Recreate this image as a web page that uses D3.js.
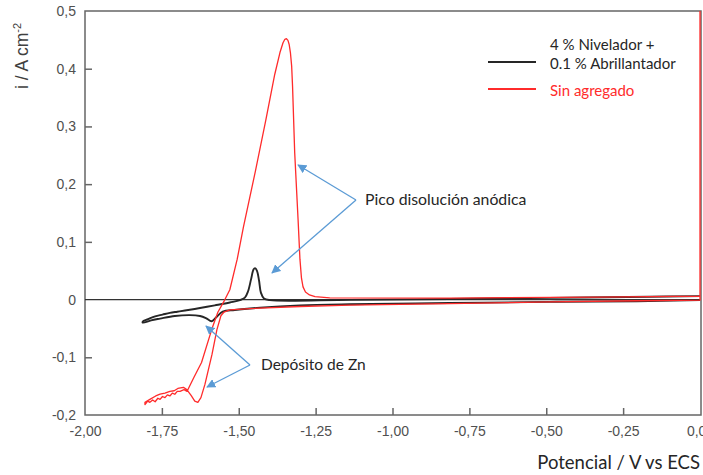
<!DOCTYPE html>
<html>
<head>
<meta charset="utf-8">
<script src="https://cdn.jsdelivr.net/npm/d3@7"></script>
<style>
  body { margin: 0; background: #fff; }
  .tick text { font-family: "Liberation Sans", Arial, sans-serif; font-size: 14px; fill: #505050; }
  .lbl { font-family: Lato, "Open Sans", sans-serif; }
</style>
</head>
<body>
<div id="chart"></div>
<script>
// Sin agregado (red): cathodic sweep from 0 V, then the return sweep
const redE = [0, 0, -0.206, -0.489, -0.814, -1.139, -1.30, -1.464, -1.529, -1.548, -1.558, -1.571, -1.587, -1.61, -1.623, -1.633, -1.643, -1.655, -1.669, -1.68, -1.698, -1.71, -1.724, -1.74, -1.756, -1.77, -1.789, -1.805,
  -1.805, -1.796, -1.789, -1.78, -1.772, -1.763, -1.756, -1.748, -1.740, -1.732, -1.724, -1.716, -1.708, -1.70, -1.691, -1.678, -1.668, -1.646, -1.621, -1.588, -1.568, -1.545, -1.529, -1.505, -1.485, -1.446, -1.412, -1.383, -1.366, -1.356, -1.350, -1.345, -1.340, -1.336, -1.332, -1.328, -1.325, -1.318, -1.307, -1.301, -1.296, -1.291, -1.283, -1.27, -1.252, -1.204, -0.814, -0.326, 0, 0];
const redI = [0.6, -0.001, -0.002, -0.004, -0.007, -0.0095, -0.012, -0.0156, -0.018, -0.0216, -0.028, -0.052, -0.095, -0.147, -0.17, -0.178, -0.176, -0.166, -0.156, -0.152, -0.154, -0.158, -0.159, -0.162, -0.164, -0.167, -0.173, -0.178,
  -0.182, -0.176, -0.178, -0.174, -0.177, -0.171, -0.173, -0.168, -0.170, -0.165, -0.167, -0.162, -0.164, -0.159, -0.159, -0.156, -0.159, -0.135, -0.109, -0.052, -0.022, 0.0, 0.017, 0.070, 0.125, 0.222, 0.311, 0.390, 0.428, 0.445, 0.451, 0.452, 0.449, 0.442, 0.428, 0.405, 0.369, 0.254, 0.138, 0.070, 0.037, 0.022, 0.013, 0.008, 0.005, 0.003, 0.0026, 0.0043, 0.006, 0.6];

// 4 % Nivelador + 0.1 % Abrillantador (black)
const blackE = [0, -0.206, -0.489, -0.814, -1.139, -1.301, -1.431, -1.513, -1.552, -1.574, -1.588, -1.607, -1.626, -1.659, -1.708, -1.756, -1.785, -1.812,
  -1.812, -1.795, -1.772, -1.748, -1.724, -1.70, -1.675, -1.626, -1.578, -1.529, -1.496, -1.480, -1.470, -1.460, -1.452, -1.447, -1.441, -1.434, -1.428, -1.418, -1.399, -1.139, -0.814, -0.489, -0.164, 0];
const blackI = [-0.001, -0.003, -0.004, -0.006, -0.008, -0.010, -0.014, -0.018, -0.021, -0.031, -0.0375, -0.032, -0.0285, -0.027, -0.0285, -0.033, -0.036, -0.040,
  -0.038, -0.034, -0.029, -0.026, -0.023, -0.021, -0.019, -0.0147, -0.010, -0.005, -0.001, 0.0035, 0.014, 0.035, 0.052, 0.0545, 0.050, 0.033, 0.012, 0.002, -0.001, -0.0005, 0.001, 0.003, 0.005, 0.006];

const xTicks = [-2, -1.75, -1.5, -1.25, -1, -0.75, -0.5, -0.25, 0];
const yTicks = [-0.2, -0.1, 0, 0.1, 0.2, 0.3, 0.4, 0.5];
const legendLabels = [["4 % Nivelador +", "0.1 % Abrillantador"], ["Sin agregado"]];
const seriesColors = ["#262626", "#ff2b2b"];

const width = 703, height = 475;
const x = d3.scaleLinear().domain([-2, 0]).range([85, 700]);
const y = d3.scaleLinear().domain([-0.2, 0.5]).range([415, 11]);

const svg = d3.select("#chart").append("svg")
    .attr("width", width)
    .attr("height", height);

svg.append("defs").append("clipPath").attr("id", "plot")
  .append("rect").attr("x", 85).attr("y", 11).attr("width", 616).attr("height", 404);

const fmt = (d, n) => d === 0 && n === 1 ? "0" : d.toFixed(n).replace(".", ",");

// frame
const axisColor = "#666";
svg.append("rect")
    .attr("x", 85).attr("y", 11).attr("width", 616).attr("height", 404)
    .attr("fill", "none").attr("stroke", axisColor).attr("stroke-width", 1.5);

const gx = svg.append("g")
    .attr("transform", `translate(0,415)`)
    .call(d3.axisBottom(x).tickValues(xTicks).tickSize(-7).tickPadding(8).tickFormat(d => fmt(d, 2)));
gx.select(".domain").remove();
gx.selectAll(".tick line").attr("stroke", axisColor).attr("stroke-width", 1.5)
    .filter(d => d === -2 || d === 0).remove();
gx.selectAll(".tick text").attr("dy", "0.9em");

const gy = svg.append("g")
    .attr("transform", `translate(85,0)`)
    .call(d3.axisLeft(y).tickValues(yTicks).tickSize(-7).tickPadding(9).tickFormat(d => fmt(d, 1)));
gy.select(".domain").remove();
gy.selectAll(".tick line").attr("stroke", axisColor).attr("stroke-width", 1.5)
    .filter(d => d === -0.2 || d === 0 || d === 0.5).remove();

// zero line
svg.append("line")
    .attr("x1", x(-2)).attr("x2", x(0)).attr("y1", y(0)).attr("y2", y(0))
    .attr("stroke", "#333").attr("stroke-width", 1.2);

const plot = svg.append("g").attr("clip-path", "url(#plot)");

plot.append("path")
    .datum(blackE.map((e, k) => [e, blackI[k]]))
    .attr("d", d3.line().x(d => x(d[0])).y(d => y(d[1])).curve(d3.curveCatmullRom.alpha(0.5)))
    .attr("fill", "none")
    .attr("stroke", seriesColors[0]).attr("stroke-width", 1.9);

plot.append("path")
    .datum(redE.map((e, k) => [e, redI[k]]))
    .attr("d", d3.line().x(d => x(d[0])).y(d => y(d[1])))
    .attr("fill", "none").attr("stroke-linejoin", "round")
    .attr("stroke", seriesColors[1]).attr("stroke-width", 1.3);

// legend
const leg = svg.append("g").attr("class", "lbl");
leg.append("line").attr("x1", 488).attr("x2", 536).attr("y1", 62).attr("y2", 62)
    .attr("stroke", seriesColors[0]).attr("stroke-width", 1.8);
leg.append("line").attr("x1", 488).attr("x2", 536).attr("y1", 89).attr("y2", 89)
    .attr("stroke", seriesColors[1]).attr("stroke-width", 1.8);
leg.append("text").attr("x", 550).attr("y", 50).attr("font-size", 15).attr("fill", "#262626").text(legendLabels[0][0]);
leg.append("text").attr("x", 550).attr("y", 69).attr("font-size", 15).attr("fill", "#262626").text(legendLabels[0][1]);
leg.append("text").attr("x", 550).attr("y", 96).attr("font-size", 15).attr("fill", seriesColors[1]).text(legendLabels[1][0]);

// annotations
const arrowColor = "#5b9bd5";
svg.append("defs").append("marker")
    .attr("id", "head").attr("viewBox", "0 0 10 10")
    .attr("refX", 9).attr("refY", 5)
    .attr("markerWidth", 7).attr("markerHeight", 7)
    .attr("orient", "auto")
  .append("path").attr("d", "M0,0 L10,5 L0,10 z").attr("fill", arrowColor);

const arrows = [
  [356, 200, 298, 165],
  [356, 200, 272, 273],
  [250, 365, 206, 326],
  [250, 365, 207, 387]
];
svg.selectAll(".arrow").data(arrows).join("line")
    .attr("class", "arrow")
    .attr("x1", d => d[0]).attr("y1", d => d[1])
    .attr("x2", d => d[2]).attr("y2", d => d[3])
    .attr("stroke", arrowColor).attr("stroke-width", 1.3)
    .attr("marker-end", "url(#head)");

svg.append("text").attr("class", "lbl").attr("x", 365).attr("y", 205)
    .attr("font-size", 15.8).attr("fill", "#262626").text("Pico disolución anódica");
svg.append("text").attr("class", "lbl").attr("x", 261).attr("y", 370)
    .attr("font-size", 15.5).attr("fill", "#262626").text("Depósito de Zn");

// axis titles
svg.append("text").attr("class", "lbl")
    .attr("x", 700).attr("y", 469).attr("text-anchor", "end")
    .attr("font-size", 18.5).attr("fill", "#262626").text("Potencial / V vs ECS");

const yt = svg.append("text")
    .attr("transform", "translate(28,56) rotate(-90)")
    .attr("text-anchor", "middle")
    .attr("font-family", "Liberation Sans, Arial, sans-serif")
    .attr("font-size", 17.5).attr("fill", "#404040");
yt.append("tspan").text("i / A cm");
yt.append("tspan").attr("font-size", 11).attr("dy", -7).text("-2");
</script>
</body>
</html>
